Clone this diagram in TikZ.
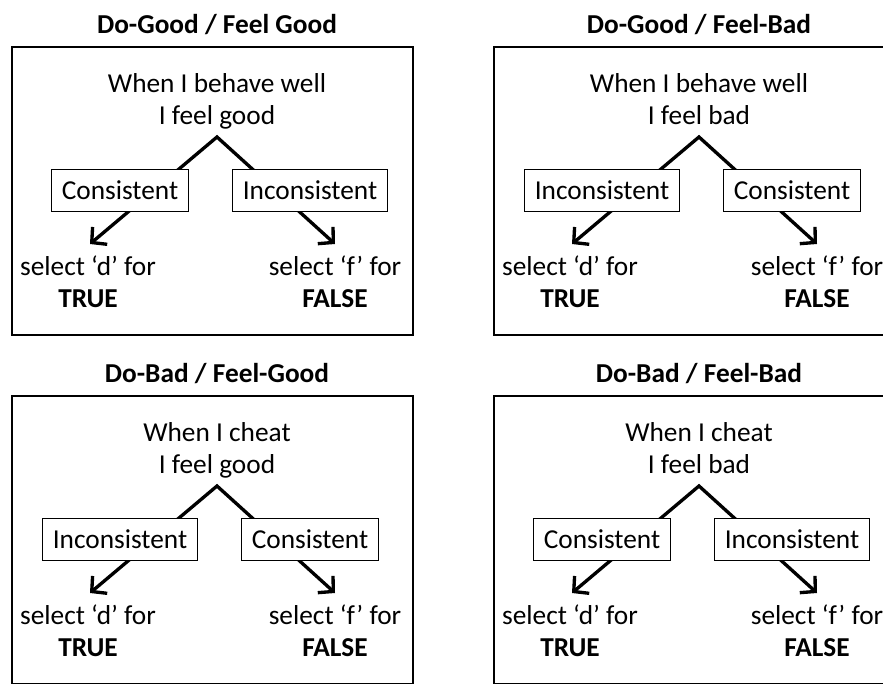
\documentclass[tikz,border=0pt]{standalone}
\usepackage{fontspec}
\setmainfont{Carlito}
\usetikzlibrary{arrows.meta}

\begin{document}
\begin{tikzpicture}[x=0.75pt, y=-0.75pt, font=\fontsize{20.5}{24}\selectfont,
  frame/.style = {draw, line width=2.2pt},
  choice/.style = {draw, line width=0.7pt, fill=white, minimum height=32pt, inner xsep=7.5pt},
  stem/.style = {line width=2.5pt, line join=miter,
    {Straight Barb[length=8pt, width=17pt]}-{Straight Barb[length=8pt, width=17pt]}},
  head/.style = {font=\fontsize{20.5}{24}\selectfont\bfseries},
  says/.style = {align=center}]
	\useasboundingbox (0,0) rectangle (883,684);
	\clip (0,0) rectangle (883,684);
	
	\foreach \ox/\oy/\ttl/\act/\feel/\lft/\rgt in {
		0/0/{Do-Good / Feel Good}/{behave well}/good/Consistent/Inconsistent,
		482/0/{Do-Good / Feel-Bad}/{behave well}/bad/Inconsistent/Consistent,
		0/349/{Do-Bad / Feel-Good}/cheat/good/Inconsistent/Consistent,
		482/349/{Do-Bad / Feel-Bad}/cheat/bad/Consistent/Inconsistent}
	{
	\begin{scope}[shift={(\ox,\oy)}]
		\node[head] (title) at (217,27) {\ttl\strut};
		\draw[frame] (12,47) rectangle (413,335);
		\node[says] (cue) at (217,102) {When I \act\strut\\I feel \feel\strut};
		
		\coordinate (apex) at (217,137);
		\coordinate (tipL) at (90,244);
		\coordinate (tipR) at (335,244);
		\draw[stem] (tipL) -- (apex) -- (tipR);
		
		\node[choice] (left) at (120,190.5) {\lft};
		\node[choice] (right) at (310,190.5) {\rgt};
		\node[says] (keyd) at (88,285) {select ‘d’ for\strut\\\textbf{TRUE}\strut};
		\node[says] (keyf) at (335,285) {select ‘f’ for\strut\\\textbf{FALSE}\strut};
	\end{scope}
	}
\end{tikzpicture}
\end{document}
